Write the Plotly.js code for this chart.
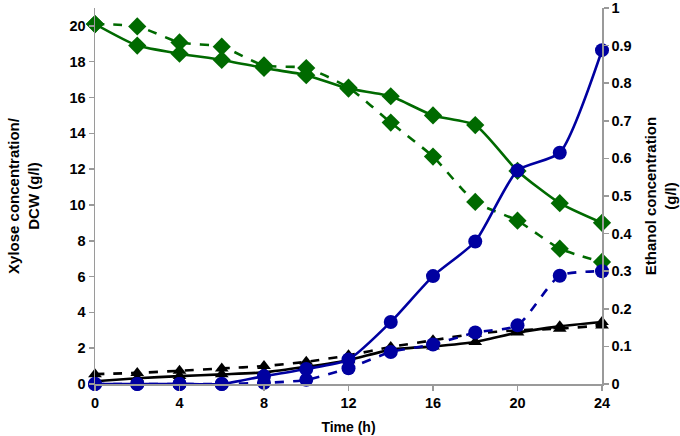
<!DOCTYPE html>
<html>
<head>
<meta charset="utf-8">
<script src="https://cdn.plot.ly/plotly-3.0.1.min.js"></script>
<style>
  html, body { margin: 0; padding: 0; background: #fff; }
  #chart { width: 680px; height: 436px; }
</style>
</head>
<body>
<div id="chart"></div>
<script>
/* Xylose / DCW (left axis) and ethanol (right axis) over time */

const time = [0, 2, 4, 6, 8, 10, 12, 14, 16, 18, 20, 22, 24];

// xylose, g/l
const xyloseSolid  = [20.1, 18.9, 18.45, 18.1, 17.65, 17.25, 16.5, 16.07, 15.0, 14.46, 11.9, 10.1, 9.0];
const xyloseDashed = [20.1, 19.97, 19.08, 18.84, 17.79, 17.65, 16.55, 14.6, 12.7, 10.17, 9.12, 7.56, 6.82];

// DCW, g/l
const dcwSolid  = [0.15, 0.32, 0.44, 0.54, 0.65, 0.96, 1.33, 1.92, 2.1, 2.35, 2.87, 3.22, 3.46];
const dcwDashed = [0.55, 0.62, 0.74, 0.87, 1.0, 1.24, 1.6, 2.07, 2.44, 2.81, 3.0, 3.09, 3.27];

// ethanol, g/l (right axis)
const ethanolSolid  = [0, 0, 0, 0, 0.021, 0.04, 0.065, 0.165, 0.287, 0.379, 0.568, 0.615, 0.888];
const ethanolDashed = [0, 0, 0, 0, 0.003, 0.011, 0.042, 0.085, 0.105, 0.137, 0.156, 0.288, 0.30];

const xTicks = [0, 4, 8, 12, 16, 20, 24];
const leftTicks = [0, 2, 4, 6, 8, 10, 12, 14, 16, 18, 20];
const rightTicks = [0, 0.1, 0.2, 0.3, 0.4, 0.5, 0.6, 0.7, 0.8, 0.9, 1];

const GREEN = '#006A00';
const BLUE = '#0000A0';
const BLACK = '#000000';
const FONT = 'Liberation Sans, Arial, sans-serif';

const bold = v => `<b>${v}</b>`;

function series(y, color, dash, symbol, size, axis) {
    return {
        x: time,
        y: y,
        yaxis: axis,
        type: 'scatter',
        mode: 'lines+markers',
        line: { color: color, width: 2.6, dash: dash, shape: 'spline', smoothing: 0.6 },
        marker: { color: color, symbol: symbol, size: size },
        showlegend: false,
        cliponaxis: false,
    };
}

const traces = [
    series(dcwDashed, BLACK, 'dash', 'triangle-up', 12, 'y'),
    series(dcwSolid, BLACK, 'solid', 'triangle-up', 12, 'y'),
    series(ethanolDashed, BLUE, 'dash', 'circle', 14, 'y2'),
    series(ethanolSolid, BLUE, 'solid', 'circle', 14, 'y2'),
    series(xyloseDashed, GREEN, 'dash', 'diamond', 14, 'y'),
    series(xyloseSolid, GREEN, 'solid', 'diamond', 14, 'y'),
];

const axisCommon = {
    showgrid: false,
    zeroline: false,
    showline: true,
    linecolor: '#9a9a9a',
    linewidth: 1.5,
    ticks: 'outside',
    ticklen: 5,
    tickcolor: '#9a9a9a',
    tickwidth: 1.5,
    ticklabeloverflow: 'allow',
    tickfont: { family: FONT, size: 14.5, color: '#000', weight: 700 },
};

const layout = {
    width: 680,
    height: 436,
    margin: { l: 95, r: 78, t: 8, b: 52 },
    paper_bgcolor: '#fff',
    plot_bgcolor: '#fff',
    font: { family: FONT, color: '#000' },
    xaxis: {
        ...axisCommon,
        range: [0, 24],
        tickvals: xTicks,
        ticktext: xTicks.map(bold),
        title: { text: '<b>Time (h)</b>', font: { family: FONT, size: 14 }, standoff: 12 },
    },
    yaxis: {
        ...axisCommon,
        range: [0, 21],
        tickvals: leftTicks,
        ticktext: leftTicks.map(bold),
        title: { text: '<b>Xylose concentration/<br>DCW (g/l)</b>', font: { family: FONT, size: 15 }, standoff: 26 },
    },
    yaxis2: {
        ...axisCommon,
        overlaying: 'y',
        side: 'right',
        range: [0, 1.0001],
        tickvals: rightTicks,
        ticktext: rightTicks.map(bold),
        title: { text: '<b>Ethanol concentration<br>(g/l)</b>', font: { family: FONT, size: 15 }, standoff: 15 },
    },
};

Plotly.newPlot('chart', traces, layout, { staticPlot: true, displayModeBar: false });
</script>
</body>
</html>
